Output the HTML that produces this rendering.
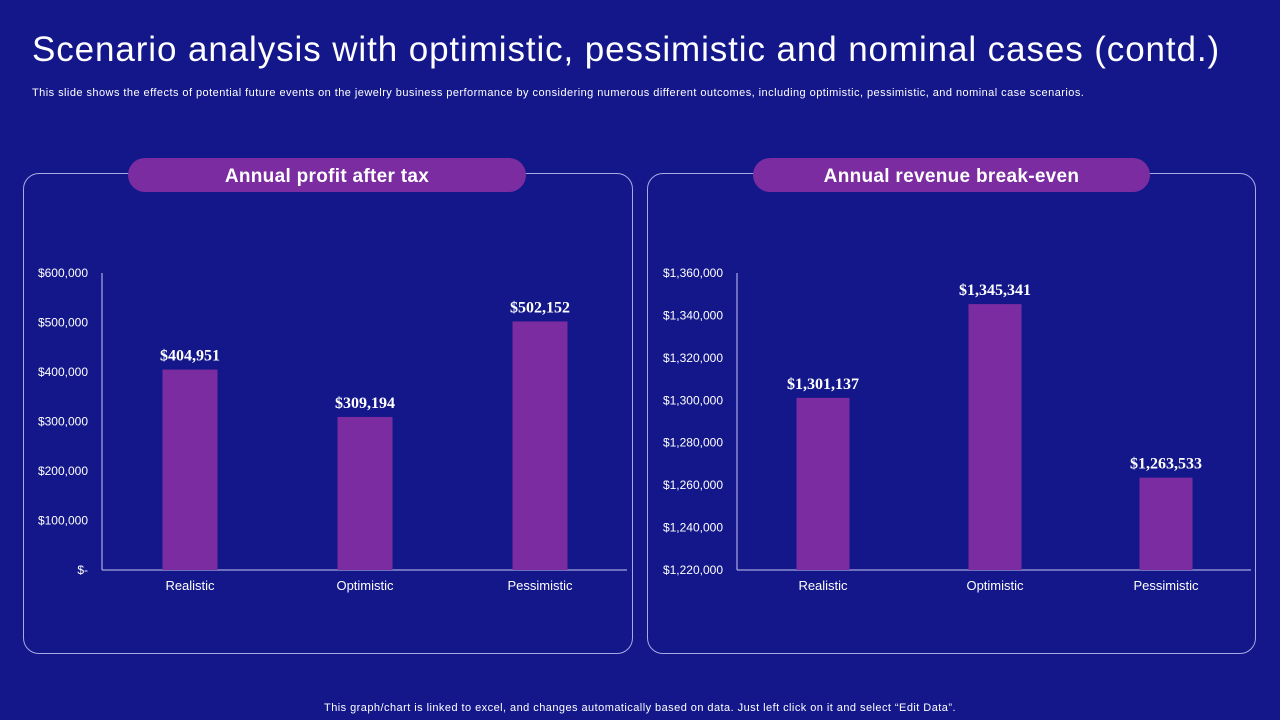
<!DOCTYPE html>
<html><head><meta charset="utf-8"><style>
body{margin:0;width:1280px;height:720px;background:#13178a;overflow:hidden;font-family:"Liberation Sans",sans-serif;color:#fff;position:relative}
.abs{position:absolute}
.panel{position:absolute;border:1px solid #a9a9e6;border-radius:16px;top:173px;height:479px}
.pill{position:absolute;top:158px;height:34px;border-radius:17px;background:#7a2ca0;font-weight:bold;font-size:19px;line-height:37px;text-align:center;letter-spacing:0.3px}
</style></head><body>
<div class="abs" style="left:32px;top:30px;font-size:35px;letter-spacing:0.9px;">Scenario analysis with optimistic, pessimistic and nominal cases (contd.)</div>
<div class="abs" style="left:32px;top:87px;font-size:11px;letter-spacing:0.45px;">This slide shows the effects of potential future events on the jewelry business performance by considering numerous different outcomes, including optimistic, pessimistic, and nominal case scenarios.</div>
<div class="panel" style="left:23px;width:608px"></div>
<div class="panel" style="left:647px;width:607px"></div>
<div class="pill" style="left:128px;width:398px">Annual profit after tax</div>
<div class="pill" style="left:753px;width:397px">Annual revenue break-even</div>
<svg class="abs" style="left:0;top:0" width="1280" height="720" id="svg"></svg>
<div class="abs" style="left:0;width:1280px;text-align:center;top:702px;font-size:11px;letter-spacing:0.45px;">This graph/chart is linked to excel, and changes automatically based on data. Just left click on it and select “Edit Data”.</div>
<script>
const categories=["Realistic","Optimistic","Pessimistic"];
const profitValues=[404951,309194,502152];
const profitTicks=[0,100000,200000,300000,400000,500000,600000];
const revenueValues=[1301137,1345341,1263533];
const revenueTicks=[1220000,1240000,1260000,1280000,1300000,1320000,1340000,1360000];
const svg=document.getElementById('svg');
const NS='http://www.w3.org/2000/svg';
function mk(tag,a,txt){const e=document.createElementNS(NS,tag);for(const k in a)e.setAttribute(k,a[k]);if(txt!==undefined)e.textContent=txt;svg.appendChild(e);return e;}
function fmt(v){return '$'+v.toLocaleString('en-US');}
function chart(cfg){
  const {x0,x1,yTop,yBot,min,max,vals,ticks,centers,bw,name}=cfg;
  const y=v=>yBot-(v-min)/(max-min)*(yBot-yTop);
  ticks.forEach(t=>{const e=mk('text',{x:x0-14,y:y(t)+4,'text-anchor':'end','font-size':12,fill:'#fff','font-family':'Liberation Sans'},t===0?'$-':fmt(t));
    
    });
  const ax=mk('line',{x1:x0,y1:yTop,x2:x0,y2:yBot,stroke:'#c8c8f0','stroke-width':1});
  
  
  const xa=mk('line',{x1:x0,y1:yBot,x2:x1,y2:yBot,stroke:'#c8c8f0','stroke-width':1});
  
  
  vals.forEach((v,i)=>{
    const cx=centers[i];
    const r=mk('rect',{x:cx-bw/2,y:y(v),width:bw,height:yBot-y(v),fill:'#7b2ca0'});
    
    
    const l=mk('text',{x:cx,y:y(v)-9,'text-anchor':'middle','font-size':16,'font-weight':'bold',fill:'#fff','font-family':'Liberation Serif'},fmt(v));
    
    
    const c=mk('text',{x:cx,y:yBot+20,'text-anchor':'middle','font-size':13,fill:'#fff','font-family':'Liberation Sans'},categories[i]);
    
    
  });
}
chart({x0:102,x1:627,yTop:273,yBot:570,min:0,max:600000,vals:profitValues,ticks:profitTicks,centers:[190,365,540],bw:55,name:'profit'});
chart({x0:737,x1:1251,yTop:273,yBot:570,min:1220000,max:1360000,vals:revenueValues,ticks:revenueTicks,centers:[823,995,1166],bw:53,name:'revenue'});
</script>
</body></html>
